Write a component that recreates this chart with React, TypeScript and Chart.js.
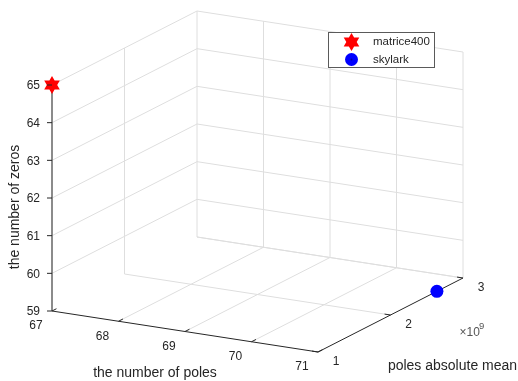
import { useEffect, useRef } from 'react';
import { Chart, registerables } from 'chart.js';

Chart.register(...registerables);

// Series (one point each): number of poles, poles absolute mean (×10^9), number of zeros
const seriesNames = ['matrice400', 'skylark'];
const poleCounts = [67, 71];
const poleMeans = [1.0, 2.64];
const zeroCounts = [65, 59];
const seriesColors = ['#ff0000', '#0000ff'];

// Axis ticks
const xTicks = [67, 68, 69, 70, 71];
const yTicks = [1, 2, 3];
const zTicks = [59, 60, 61, 62, 63, 64, 65];

const xTitle = 'the number of poles';
const yTitle = 'poles absolute mean';
const zTitle = 'the number of zeros';

const W = 518;
const H = 381;
const FONT = '"Liberation Sans", Arial, Helvetica, sans-serif';
const TEXT = '#262626';
const GRID = '#dedede';

// Oblique view: screen position of the front corner and the on-screen extent of each axis
const ORIGIN = [52, 311];
const EX = [266, 41];
const EY = [145, -74];
const EZ = [0, -226];
const xr = [xTicks[0], xTicks[xTicks.length - 1]];
const yr = [yTicks[0], yTicks[yTicks.length - 1]];
const zr = [zTicks[0], zTicks[zTicks.length - 1]];

function project(x: number, y: number, z: number) {
  const a = (x - xr[0]) / (xr[1] - xr[0]);
  const b = (y - yr[0]) / (yr[1] - yr[0]);
  const c = (z - zr[0]) / (zr[1] - zr[0]);
  return {
    x: ORIGIN[0] + a * EX[0] + b * EY[0] + c * EZ[0],
    y: ORIGIN[1] + a * EX[1] + b * EY[1] + c * EZ[1],
  };
}

function unit(v: number[]) {
  const l = Math.hypot(v[0], v[1]);
  return [v[0] / l, v[1] / l];
}

function hexagramPath(ctx: CanvasRenderingContext2D, cx: number, cy: number, r: number) {
  const inner = r / Math.sqrt(3);
  ctx.beginPath();
  for (let i = 0; i < 12; i++) {
    const ang = -Math.PI / 2 + (i * Math.PI) / 6;
    const rr = i % 2 === 0 ? r : inner;
    const px = cx + rr * Math.cos(ang);
    const py = cy + rr * Math.sin(ang);
    if (i === 0) ctx.moveTo(px, py);
    else ctx.lineTo(px, py);
  }
  ctx.closePath();
}

function makeStarImage(r: number, color: string) {
  const c = document.createElement('canvas');
  const s = Math.ceil(r * 2 + 2);
  c.width = s;
  c.height = s;
  const ctx = c.getContext('2d')!;
  hexagramPath(ctx, s / 2, s / 2, r);
  ctx.fillStyle = color;
  ctx.fill();
  return c;
}

type Seg = { from: number[]; to: number[]; color: string; width: number; order: number };

function buildSegments(): Seg[] {
  const segs: Seg[] = [];
  const grid = (a: number[], b: number[]) =>
    segs.push({ from: a, to: b, color: GRID, width: 1, order: 3 });
  // left wall (x = min)
  for (const z of zTicks.slice(1)) grid([xr[0], yr[0], z], [xr[0], yr[1], z]);
  for (const y of yTicks.slice(1)) grid([xr[0], y, zr[0]], [xr[0], y, zr[1]]);
  // back wall (y = max)
  for (const z of zTicks) grid([xr[0], yr[1], z], [xr[1], yr[1], z]);
  for (const x of xTicks.slice(1)) grid([x, yr[1], zr[0]], [x, yr[1], zr[1]]);
  // floor (z = min)
  for (const x of xTicks.slice(1, -1)) grid([x, yr[0], zr[0]], [x, yr[1], zr[0]]);
  for (const y of yTicks.slice(1)) grid([xr[0], y, zr[0]], [xr[1], y, zr[0]]);

  // axis lines
  segs.push({ from: [xr[0], yr[0], zr[0]], to: [xr[1], yr[0], zr[0]], color: TEXT, width: 1, order: 2 });
  segs.push({ from: [xr[1], yr[0], zr[0]], to: [xr[1], yr[1], zr[0]], color: TEXT, width: 1, order: 2 });
  segs.push({ from: [xr[0], yr[0], zr[0]], to: [xr[0], yr[0], zr[1]], color: '#6e6e6e', width: 1.6, order: 2 });
  return segs;
}

const labelPlugin = {
  id: 'axes3dLabels',
  afterDatasetsDraw(chart: any) {
    const { ctx, scales } = chart;
    const px = (p: { x: number; y: number }) => [scales.x.getPixelForValue(p.x), scales.y.getPixelForValue(p.y)];
    ctx.save();
    ctx.strokeStyle = TEXT;
    ctx.lineWidth = 1;
    const uy = unit(EY);
    const ux = unit(EX);
    const TL = 5;

    // tick marks
    ctx.beginPath();
    for (const z of zTicks) {
      const [a, b] = px(project(xr[0], yr[0], z));
      ctx.moveTo(a, b);
      ctx.lineTo(a - TL, b);
    }
    for (const x of xTicks) {
      const [a, b] = px(project(x, yr[0], zr[0]));
      ctx.moveTo(a, b);
      ctx.lineTo(a + uy[0] * TL, b + uy[1] * TL);
    }
    for (const y of yTicks) {
      const [a, b] = px(project(xr[1], y, zr[0]));
      ctx.moveTo(a, b);
      ctx.lineTo(a - ux[0] * TL * 1.2, b - ux[1] * TL * 1.2);
    }
    ctx.stroke();

    // tick labels
    ctx.fillStyle = TEXT;
    ctx.font = `12px ${FONT}`;
    ctx.textBaseline = 'middle';
    ctx.textAlign = 'right';
    for (const z of zTicks) {
      const [a, b] = px(project(xr[0], yr[0], z));
      ctx.fillText(String(z), a - 12, b + 1);
    }
    ctx.textAlign = 'center';
    for (const x of xTicks) {
      const [a, b] = px(project(x, yr[0], zr[0]));
      ctx.fillText(String(x), a - 16, b + 15);
    }
    for (const y of yTicks) {
      const [a, b] = px(project(xr[1], y, zr[0]));
      ctx.fillText(String(y), a + 18, b + 10);
    }
    // exponent
    const [ea, eb] = px(project(xr[1], (yr[0] + yr[1]) / 2, zr[0]));
    ctx.textAlign = 'left';
    ctx.fillStyle = '#555';
    ctx.font = `12px ${FONT}`;
    ctx.fillText('\u00d710', ea + 69, eb + 17.5);
    ctx.font = `9.5px ${FONT}`;
    ctx.fillText('9', ea + 88.5, eb + 11.5);

    // axis titles
    ctx.fillStyle = TEXT;
    ctx.font = `14px ${FONT}`;
    ctx.textAlign = 'center';
    const [xa, xb] = px(project((xr[0] + xr[1]) / 2, yr[0], zr[0]));
    ctx.fillText(xTitle, xa - 30, xb + 42);
    const [ya, yb] = px(project(xr[1], (yr[0] + yr[1]) / 2, zr[0]));
    ctx.fillText(yTitle, ya + 62, yb + 51);
    const [za, zb] = px(project(xr[0], yr[0], (zr[0] + zr[1]) / 2));
    ctx.translate(za - 37, zb + 9);
    ctx.rotate(-Math.PI / 2);
    ctx.fillText(zTitle, 0, 0);
    ctx.restore();

    // legend
    ctx.save();
    const lx = 328.5, ly = 32.5, lw = 106, lh = 35;
    ctx.fillStyle = '#ffffff';
    ctx.fillRect(lx, ly, lw, lh);
    ctx.strokeStyle = '#5a5a5a';
    ctx.lineWidth = 1;
    ctx.strokeRect(lx, ly, lw, lh);
    ctx.font = `11.5px ${FONT}`;
    ctx.textAlign = 'left';
    ctx.textBaseline = 'middle';
    seriesNames.forEach((name, i) => {
      const cy = ly + 9.5 + i * 17.5;
      const mx = lx + 23;
      ctx.strokeStyle = seriesColors[i];
      ctx.lineWidth = 1;
      ctx.beginPath();
      ctx.moveTo(mx, cy);
      ctx.lineTo(mx, cy + 6);
      ctx.stroke();
      ctx.fillStyle = seriesColors[i];
      if (i === 0) {
        hexagramPath(ctx, mx, cy, 9);
        ctx.fill();
      } else {
        ctx.beginPath();
        ctx.arc(mx, cy, 6.5, 0, Math.PI * 2);
        ctx.fill();
        ctx.fillStyle = '#0000a0';
        ctx.beginPath();
        ctx.arc(mx, cy, 1, 0, Math.PI * 2);
        ctx.fill();
      }
      ctx.fillStyle = TEXT;
      ctx.fillText(name, lx + 44.5, cy);
    });
    ctx.restore();
  },
};

export default function App() {
  const canvasRef = useRef<HTMLCanvasElement | null>(null);

  useEffect(() => {
    const canvas = canvasRef.current;
    if (!canvas) return;

    const segDatasets = buildSegments().map((s) => ({
      type: 'line' as const,
      data: [project(s.from[0], s.from[1], s.from[2]), project(s.to[0], s.to[1], s.to[2])],
      borderColor: s.color,
      borderWidth: s.width,
      pointRadius: 0,
      showLine: true,
      fill: false,
      order: s.order,
    }));

    const starImg = makeStarImage(9, seriesColors[0]);
    const pointDatasets = seriesNames.map((name, i) => ({
      type: 'scatter' as const,
      label: name,
      data: [project(poleCounts[i], poleMeans[i], zeroCounts[i])],
      backgroundColor: seriesColors[i],
      borderColor: seriesColors[i],
      pointStyle: i === 0 ? (starImg as any) : 'circle',
      pointRadius: i === 0 ? 9 : 6.5,
      borderWidth: 0,
      order: 0,
      clip: false,
    }));

    const chart = new Chart(canvas, {
      type: 'scatter',
      data: { datasets: [...pointDatasets, ...segDatasets] as any },
      options: {
        animation: false,
        responsive: false,
        layout: { padding: 0, autoPadding: false },
        scales: {
          x: { type: 'linear', min: 0, max: W, display: false },
          y: { type: 'linear', min: 0, max: H, reverse: true, display: false },
        },
        plugins: {
          legend: { display: false },
          tooltip: { enabled: false },
        },
        events: [],
      },
      plugins: [labelPlugin],
    });

    return () => chart.destroy();
  }, []);

  return (
    <div style={{ position: 'fixed', left: 0, top: 0, width: W, height: H, background: '#fff' }}>
      <canvas ref={canvasRef} width={W} height={H} style={{ display: 'block' }} />
    </div>
  );
}
